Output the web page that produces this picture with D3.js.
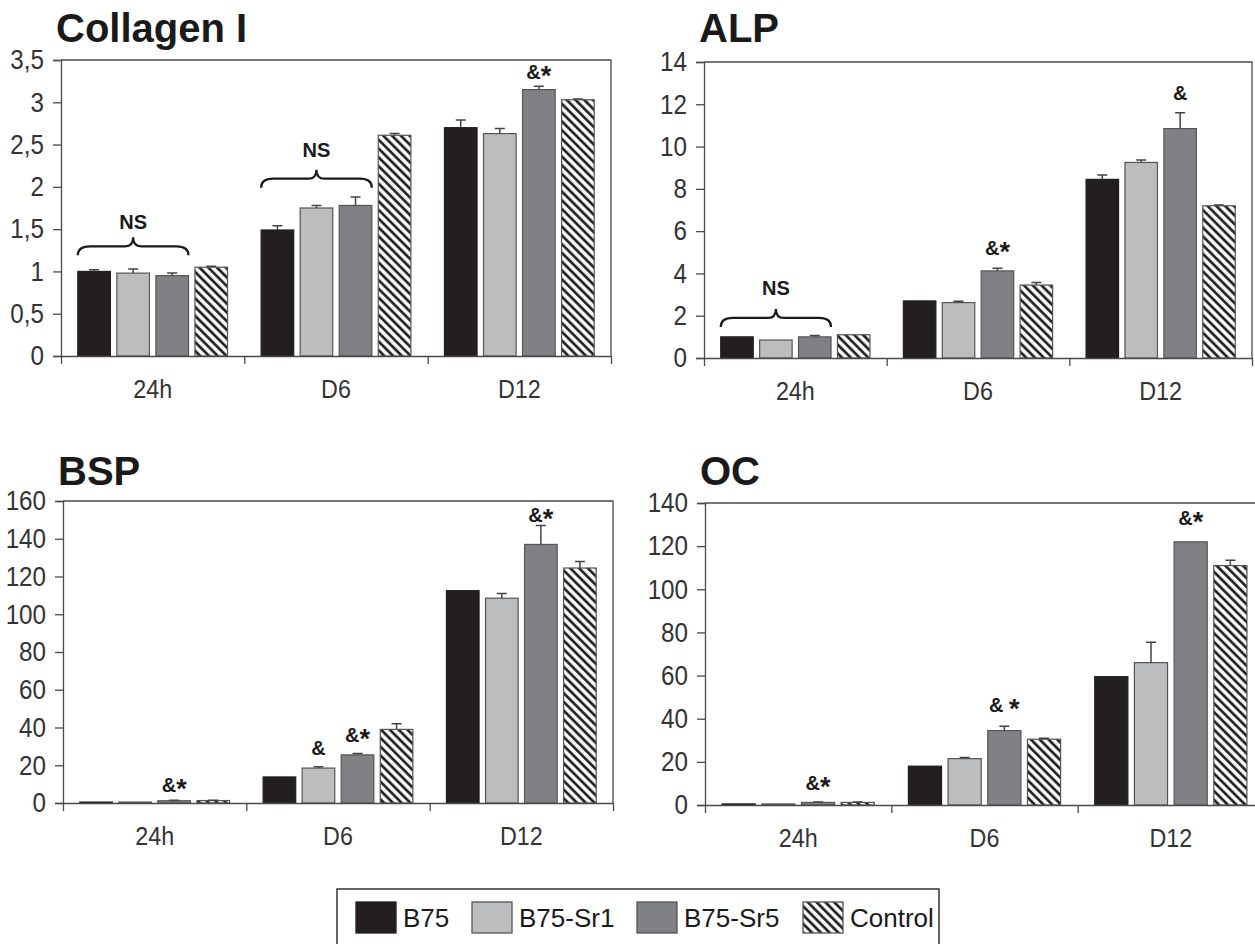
<!DOCTYPE html>
<html>
<head>
<meta charset="utf-8">
<script src="https://cdn.jsdelivr.net/npm/d3@7"></script>
<style>
  html, body { margin: 0; padding: 0; background: #fff; }
  svg { display: block; font-family: "Liberation Sans", Arial, sans-serif; }
</style>
</head>
<body>
<svg id="chart" width="1255" height="944"></svg>
<script>
// ---------------- DATA ----------------
const categories = ["24h", "D6", "D12"];
const seriesNames = ["B75", "B75-Sr1", "B75-Sr5", "Control"];

// values indexed [category][series]
const collagenValues = [[1.00, 0.98, 0.95, 1.05], [1.49, 1.75, 1.78, 2.61], [2.70, 2.63, 3.15, 3.03]];
const collagenErrors = [[0.02, 0.05, 0.03, 0.01], [0.05, 0.03, 0.10, 0.02], [0.09, 0.06, 0.04, 0.01]];
const collagenTicks = [0, 0.5, 1, 1.5, 2, 2.5, 3, 3.5];

const alpValues = [[1.0, 0.85, 1.0, 1.1], [2.7, 2.62, 4.12, 3.45], [8.45, 9.25, 10.85, 7.2]];
const alpErrors = [[0.0, 0.0, 0.06, 0.0], [0.0, 0.06, 0.13, 0.12], [0.2, 0.12, 0.75, 0.04]];
const alpTicks = [0, 2, 4, 6, 8, 10, 12, 14];

const bspValues = [[0.5, 0.5, 1.2, 1.3], [13.8, 18.5, 25.5, 39.0], [112.5, 108.5, 137.0, 124.5]];
const bspErrors = [[0, 0, 0.2, 0.2], [0, 0.7, 0.7, 3.0], [0, 2.5, 10.0, 3.5]];
const bspTicks = [0, 20, 40, 60, 80, 100, 120, 140, 160];

const ocValues = [[0.5, 0.5, 1.2, 1.2], [18.0, 21.5, 34.5, 30.5], [59.5, 66.0, 122.0, 111.0]];
const ocErrors = [[0, 0, 0.2, 0.2], [0, 0.5, 2.0, 0.4], [0, 9.5, 0, 2.5]];
const ocTicks = [0, 20, 40, 60, 80, 100, 120, 140];

// annotations: category index, first & last series index, y value of label baseline, brace bottom value
const collagenNotes = [
  { cat: 0, from: 0, to: 2, label: "NS", y: 1.50, brace: 1.19 },
  { cat: 1, from: 0, to: 2, label: "NS", y: 2.35, brace: 1.99 },
  { cat: 2, from: 2, to: 2, label: "&*", y: 3.28 }
];
const alpNotes = [
  { cat: 0, from: 0, to: 2, label: "NS", y: 2.97, brace: 1.47 },
  { cat: 1, from: 2, to: 2, label: "&*", y: 4.87 },
  { cat: 2, from: 2, to: 2, label: "&", y: 12.2 }
];
const bspNotes = [
  { cat: 0, from: 2, to: 2, label: "&*", y: 6.0 },
  { cat: 1, from: 1, to: 1, label: "&", y: 25.3 },
  { cat: 1, from: 2, to: 2, label: "&*", y: 32.3 },
  { cat: 2, from: 2, to: 2, label: "&*", y: 149 }
];
const ocNotes = [
  { cat: 0, from: 2, to: 2, label: "&*", y: 7.1 },
  { cat: 1, from: 2, to: 2, label: "& *", y: 43.3 },
  { cat: 2, from: 2, to: 2, label: "&*", y: 129.7 }
];

// ---------------- STYLE / LAYOUT ----------------
const fills = ["#231f20", "#bcbdbf", "#808184", "url(#hatch)"];
const panels = [
  { title: "Collagen I", values: collagenValues, errors: collagenErrors, ticks: collagenTicks, notes: collagenNotes,
    x0: 61, x1: 611, yTop: 60, yZero: 356, titleY: 42, comma: true },
  { title: "ALP", values: alpValues, errors: alpErrors, ticks: alpTicks, notes: alpNotes,
    x0: 704, x1: 1252, yTop: 62, yZero: 358, titleY: 42 },
  { title: "BSP", values: bspValues, errors: bspErrors, ticks: bspTicks, notes: bspNotes,
    x0: 63, x1: 613, yTop: 501, yZero: 803, titleY: 485 },
  { title: "OC", values: ocValues, errors: ocErrors, ticks: ocTicks, notes: ocNotes,
    x0: 705, x1: 1264, yTop: 503, yZero: 805, titleY: 485 }
];

const svg = d3.select("#chart");
const defs = svg.append("defs");
const P = 6.2;
const pat = defs.append("pattern")
  .attr("id", "hatch").attr("patternUnits", "userSpaceOnUse")
  .attr("width", P).attr("height", P)
  .attr("patternTransform", "rotate(-45)");
pat.append("rect").attr("width", P).attr("height", P).attr("fill", "#fff");
pat.append("line").attr("x1", 1.5).attr("y1", 0).attr("x2", 1.5).attr("y2", P)
  .attr("stroke", "#231f20").attr("stroke-width", 2.7);

const axisColor = "#4a4a4a";
const textColor = "#333";
const SX = 0.88; // slightly condensed axis lettering, as in the reference

function addLabel(sel, label) {
  // render "*" bigger like the reference's heavy asterisk
  label.split("").forEach(ch => {
    if (ch === "*") {
      sel.append("tspan").attr("font-size", 27).attr("dy", 6).text("*");
      sel.append("tspan").attr("font-size", 1).attr("dy", -6).text("");
    } else {
      sel.append("tspan").text(ch);
    }
  });
}

panels.forEach(p => {
  const g = svg.append("g");
  const x = d3.scaleBand().domain(categories).range([p.x0, p.x1]).paddingInner(0).paddingOuter(0);
  const xs = d3.scaleBand().domain(d3.range(seriesNames.length)).range([0, x.bandwidth()])
    .paddingInner(0.165).paddingOuter(0.43);
  const yMax = p.ticks[p.ticks.length - 1];
  const y = d3.scaleLinear().domain([0, yMax]).range([p.yZero, p.yTop]);

  // title
  g.append("text").attr("x", p.x0 - 5).attr("y", p.titleY)
    .attr("font-size", 40).attr("font-weight", "bold").attr("fill", "#1a1a1a").text(p.title);

  // frame (top & right)
  g.append("path")
    .attr("d", `M${p.x0},${p.yTop}H${p.x1}V${p.yZero}`)
    .attr("fill", "none").attr("stroke", axisColor).attr("stroke-width", 1.3);

  // bars
  categories.forEach((c, ci) => {
    seriesNames.forEach((s, si) => {
      const v = p.values[ci][si];
      const bx = x(c) + xs(si);
      g.append("rect")
        .attr("x", bx).attr("y", y(v))
        .attr("width", xs.bandwidth()).attr("height", y(0) - y(v))
        .attr("fill", fills[si])
        .attr("stroke", si === 0 ? "#231f20" : "#555").attr("stroke-width", 1.2);
      const e = p.errors[ci][si];
      if (e > 0) {
        const cx = bx + xs.bandwidth() / 2;
        g.append("path")
          .attr("d", `M${cx},${y(v)}V${y(v + e)}M${cx - 5},${y(v + e)}H${cx + 5}`)
          .attr("stroke", "#444").attr("stroke-width", 1.5).attr("fill", "none");
      }
    });
  });

  // y axis
  const fmt = p.comma ? (d => String(d).replace(".", ",")) : (d => String(d));
  const ya = g.append("g").attr("transform", `translate(${p.x0},0)`)
    .call(d3.axisLeft(y).tickValues(p.ticks).tickFormat(fmt).tickSize(8).tickPadding(7));
  ya.select(".domain").attr("stroke", axisColor).attr("stroke-width", 1.3);
  ya.selectAll(".tick line").attr("stroke", axisColor).attr("stroke-width", 1.3);
  ya.selectAll(".tick text").attr("font-size", 27.5).attr("fill", textColor)
    .attr("font-family", "Liberation Sans, Arial, sans-serif")
    .attr("x", -17 / SX).attr("transform", `scale(${SX},1)`);

  // x axis: labels centered in band
  const xa = g.append("g").attr("transform", `translate(0,${p.yZero})`)
    .call(d3.axisBottom(x).tickSize(0).tickPadding(23));
  xa.select(".domain").attr("stroke", axisColor).attr("stroke-width", 1.3);
  xa.selectAll(".tick text").attr("font-size", 26.5).attr("fill", textColor)
    .attr("font-family", "Liberation Sans, Arial, sans-serif")
    .attr("transform", `scale(${SX},1)`);
  // boundary ticks
  const xb = d3.scaleLinear().domain([0, categories.length]).range([p.x0, p.x1]);
  const xt = g.append("g").attr("transform", `translate(0,${p.yZero})`)
    .call(d3.axisBottom(xb).tickValues(d3.range(categories.length + 1)).tickFormat("").tickSize(8));
  xt.select(".domain").remove();
  xt.selectAll(".tick line").attr("stroke", axisColor).attr("stroke-width", 1.3);

  // annotations
  p.notes.forEach(n => {
    const c = categories[n.cat];
    const left = x(c) + xs(n.from);
    const right = x(c) + xs(n.to) + xs.bandwidth();
    const mid = (left + right) / 2;
    if (n.brace !== undefined) {
      const yb = y(n.brace);
      const h = 9;
      const r = 8;
      const d = `M${left},${yb} Q${left},${yb - h} ${left + r * 1.5},${yb - h}` +
        ` H${mid - r} Q${mid},${yb - h} ${mid},${yb - 2 * h}` +
        ` Q${mid},${yb - h} ${mid + r},${yb - h}` +
        ` H${right - r * 1.5} Q${right},${yb - h} ${right},${yb}`;
      g.append("path").attr("d", d).attr("fill", "none").attr("stroke", "#1a1a1a").attr("stroke-width", 2.2);
    }
    const t = g.append("text").attr("x", mid).attr("y", y(n.y)).attr("text-anchor", "middle")
      .attr("font-size", 20).attr("font-weight", "bold").attr("fill", "#1a1a1a");
    addLabel(t, n.label);
  });
});

// ---------------- LEGEND ----------------
const legendX = [356, 472, 637, 803];
const lg = svg.append("g");
lg.append("rect").attr("x", 337).attr("y", 889).attr("width", 602).attr("height", 60)
  .attr("fill", "#fff").attr("stroke", "#333").attr("stroke-width", 1.5);
const lx = d3.scaleOrdinal().domain(seriesNames).range(legendX);
seriesNames.forEach((s, i) => {
  lg.append("rect").attr("x", lx(s)).attr("y", 902).attr("width", 40).attr("height", 31)
    .attr("fill", fills[i]).attr("stroke", i === 0 ? "#231f20" : "#555").attr("stroke-width", 1.3);
  lg.append("text").attr("x", lx(s) + 47).attr("y", 927).attr("font-size", 26)
    .attr("fill", "#1a1a1a").text(s);
});
</script>
</body>
</html>
